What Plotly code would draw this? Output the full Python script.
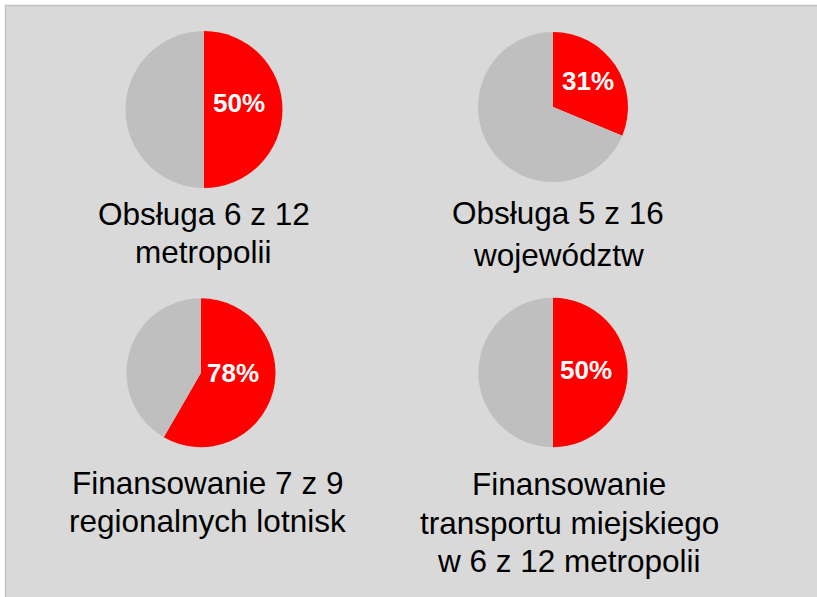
import plotly.graph_objects as go

W, H = 817, 597

# data
red_values = [6, 5, 7, 6]
grey_values = [6, 11, 5, 6]
pct_labels = ["50%", "31%", "78%", "50%"]
captions = [
    ["Obsługa 6 z 12", "metropolii"],
    ["Obsługa 5 z 16", "województw"],
    ["Finansowanie 7 z 9", "regionalnych lotnisk"],
    ["Finansowanie", "transportu miejskiego", "w 6 z 12 metropolii"],
]

# pixel geometry of each pie: centre x, centre y, radius
pie_px = [(204, 109.5, 78.5), (553, 107, 75), (201, 372.7, 74.5), (553, 372.5, 74.7)]
# where the percentage sits inside the red slice
pct_px = [(239, 103), (588, 81), (233, 373), (586, 370)]
# caption placement: centre x, first line centre y, line step
cap_px = [(203.5, 214, 38), (558, 213, 42), (207, 483, 38), (569, 484, 38.5)]

RED = "#ff0000"
GREY = "#bfbfbf"
BG = "#d9d9d9"
FONT = "Liberation Sans, Arial, sans-serif"

fig = go.Figure()

for i in range(4):
    cx, cy, r = pie_px[i]
    fig.add_trace(go.Pie(
        values=[red_values[i], grey_values[i]],
        labels=["tak", "nie"],
        textinfo="none",
        marker=dict(colors=[RED, GREY], line=dict(width=0)),
        sort=False,
        direction="clockwise",
        rotation=0,
        showlegend=False,
        hoverinfo="skip",
        domain=dict(
            x=[(cx - r) / W, (cx + r) / W],
            y=[(H - (cy + r)) / H, (H - (cy - r)) / H],
        ),
    ))

annotations = []
for i, lbl in enumerate(pct_labels):
    x, y = pct_px[i]
    annotations.append(dict(
        text=lbl, x=x / W, y=(H - y) / H,
        xref="paper", yref="paper", xanchor="center", yanchor="middle",
        showarrow=False,
        font=dict(family=FONT, size=26, color="white", weight="bold"),
    ))

for i, lines in enumerate(captions):
    x, y0, step = cap_px[i]
    for j, line in enumerate(lines):
        annotations.append(dict(
            text=line, x=x / W, y=(H - (y0 + j * step)) / H,
            xref="paper", yref="paper", xanchor="center", yanchor="middle",
            showarrow=False, font=dict(family=FONT, size=31.5, color="black"),
        ))

fig.update_layout(
    width=W, height=H,
    margin=dict(l=0, r=0, t=0, b=0),
    paper_bgcolor="white",
    plot_bgcolor="white",
    annotations=annotations,
    shapes=[dict(
        type="rect", xref="paper", yref="paper", layer="below",
        x0=5.5 / W, x1=1.02, y0=-0.02, y1=1 - 5.5 / H,
        fillcolor=BG, line=dict(color="#c4c4c4", width=1.5),
    )],
)

# the page body has a default 8px margin; drop it so the figure sits at 0,0
fig.write_html(
    "out.html",
    config={"displayModeBar": False},
    post_script="document.body.style.margin='0px';",
)
